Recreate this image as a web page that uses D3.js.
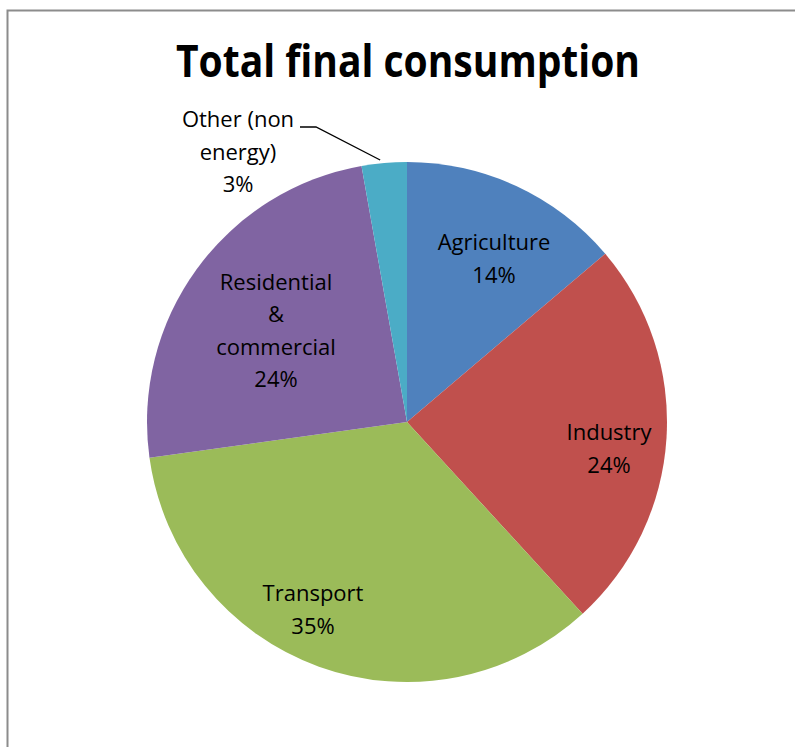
<!DOCTYPE html>
<html><head><meta charset="utf-8">
<script src="https://cdn.jsdelivr.net/npm/d3@7"></script>
<style>
html,body{margin:0;padding:0;background:#fff;}
svg{display:block;}
text{font-family:"Open Sans",sans-serif;}
</style></head>
<body>
<svg id="chart" width="795" height="747"></svg>
<script>
const title = "Total final consumption";
const categories = ["Agriculture", "Industry", "Transport", "Residential & commercial", "Other (non energy)"];
const labelLines = [["Agriculture"], ["Industry"], ["Transport"], ["Residential", "&", "commercial"], ["Other (non", "energy)"]];
const values = [13.8, 24.4, 34.6, 24.4, 2.8];
const colors = ["#4F81BD", "#C0504D", "#9BBB59", "#8064A2", "#4BACC6"];

const svg = d3.select("#chart");
const W = 795, H = 747;
svg.append("rect").attr("x", 7.5).attr("y", 10.5).attr("width", W).attr("height", H)
  .attr("fill", "#fff").attr("stroke", "#8c8c8c").attr("stroke-width", 2);

svg.append("text").attr("x", 408).attr("y", 77).attr("text-anchor", "middle")
  .attr("font-size", 44).attr("font-weight", "bold").attr("fill", "#000")
  .attr("textLength", 464).attr("lengthAdjust", "spacingAndGlyphs").text(title);

const cx = 407, cy = 422, R = 260;
const total = d3.sum(values);
const pie = d3.pie().sort(null).value(d => d)(values);
const arc = d3.arc().innerRadius(0).outerRadius(R);
const g = svg.append("g").attr("transform", `translate(${cx},${cy})`);
g.selectAll("path.slice").data(pie).join("path").attr("class", "slice")
  .attr("d", arc).attr("fill", (d, i) => colors[i]);

const pct = v => Math.round(v / total * 100) + "%";
// label anchor points (best-fit placement, page coordinates)
const labelPos = [[494, 259], [609, 449], [313, 610], [276, 331], [238, 152]];
const lh = 32.5;
pie.forEach((d, i) => {
  const lines = labelLines[i].concat([pct(values[i])]);
  const x = labelPos[i][0] - cx, y = labelPos[i][1] - cy;
  const t = g.append("text").attr("text-anchor", "middle").attr("font-size", 22).attr("fill", "#000");
  const n = lines.length;
  lines.forEach((ln, k) => {
    t.append("tspan").attr("x", x).attr("y", y + (k - (n - 1) / 2) * lh).attr("dy", "0.35em").text(ln);
  });
});

// leader line for the small slice
const o = pie[4];
const mid = (o.startAngle + o.endAngle) / 2;
const ex = Math.sin(mid) * R, ey = -Math.cos(mid) * R;
g.append("polyline").attr("fill", "none").attr("stroke", "#000").attr("stroke-width", 1.3)
  .attr("points", [[300 - cx, 127 - cy], [316 - cx, 127 - cy], [ex - 4, ey - 3]].map(p => p.join(",")).join(" "));
</script>
</body></html>
